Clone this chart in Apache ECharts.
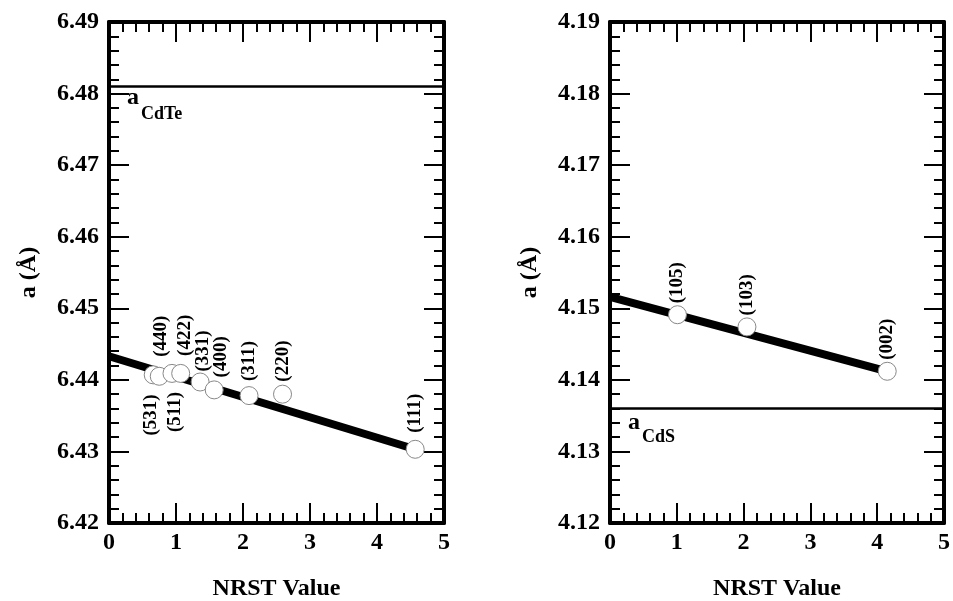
<!DOCTYPE html>
<html><head><meta charset="utf-8">
<script src="https://cdn.jsdelivr.net/npm/echarts@6/dist/echarts.min.js"></script>
<style>html,body{margin:0;padding:0;background:#fff}#c{width:953px;height:601px}</style>
</head><body><div id="c"></div>
<script>
// ---- data ----
const xTickMin = 0, xTickMax = 5, xTickStep = 1;
const cdteYMin = 6.42, cdteYMax = 6.49, cdteYStep = 0.01;
const cdsYMin = 4.12, cdsYMax = 4.19, cdsYStep = 0.01;

const cdteHkl  = ['(531)','(440)','(511)','(422)','(331)','(400)','(311)','(220)','(111)'];
const cdteNrst = [0.66, 0.75, 0.94, 1.07, 1.36, 1.57, 2.09, 2.59, 4.57];
const cdteA    = [6.4407, 6.4405, 6.4409, 6.4409, 6.4397, 6.4386, 6.4378, 6.4380, 6.4303];
const cdteFitX = [0, 4.57];
const cdteFitA = [6.4433, 6.4303];
const cdteRef  = 6.481;

const cdsHkl  = ['(105)','(103)','(002)'];
const cdsNrst = [1.01, 2.05, 4.15];
const cdsA    = [4.1491, 4.1474, 4.1412];
const cdsFitX = [0, 4.15];
const cdsFitA = [4.1516, 4.1412];
const cdsRef  = 4.136;

// ---- styling ----
const FONT = 'Liberation Serif';
const labelsBelow = ['(531)','(511)'];
// [horizontal nudge px, gap from marker px]
const labelNudge = {'(531)':[-2,10],'(440)':[2,10],'(511)':[3,9],'(422)':[4,8],'(331)':[3,1],
  '(400)':[7,3],'(311)':[0,5],'(220)':[1,3],'(111)':[0,7],'(105)':[0,2],'(103)':[0,2],'(002)':[0,2]};

const chart = echarts.init(document.getElementById('c'), null, {renderer:'canvas'});

function xAx(grid, main){
  return {
    type:'value', gridIndex:grid, position: main ? 'bottom' : 'top',
    min:xTickMin, max:xTickMax, interval:xTickStep,
    name: main ? 'NRST Value' : '', nameLocation:'middle', nameGap:54,
    nameTextStyle:{fontFamily:FONT,fontWeight:'bold',fontSize:24,color:'#000'},
    axisLine:{show:true,onZero:false,lineStyle:{color:'#000',width:4}},
    axisTick:{show:true,inside:true,length:20,lineStyle:{color:'#000',width:2}},
    minorTick:{show:true,splitNumber:5,length:10,lineStyle:{color:'#000',width:2}},
    axisLabel:{show:main,margin:8,fontFamily:FONT,fontWeight:'bold',fontSize:24,color:'#000'},
    splitLine:{show:false}, minorSplitLine:{show:false}
  };
}
function yAx(grid, main, mn, mx, st){
  return {
    type:'value', gridIndex:grid, position: main ? 'left' : 'right',
    min:mn, max:mx, interval:st,
    name: main ? 'a (Å)' : '', nameLocation:'middle', nameRotate:90, nameGap:68,
    nameTextStyle:{fontFamily:FONT,fontWeight:'bold',fontSize:24,color:'#000'},
    axisLine:{show:true,onZero:false,lineStyle:{color:'#000',width:4}},
    axisTick:{show:true,inside:true,length:20,lineStyle:{color:'#000',width:2}},
    minorTick:{show:true,splitNumber:5,length:10,lineStyle:{color:'#000',width:2}},
    axisLabel:{show:main,margin:10,fontFamily:FONT,fontWeight:'bold',fontSize:24,color:'#000',
      formatter:v=>v.toFixed(2)},
    splitLine:{show:false}, minorSplitLine:{show:false}
  };
}
function pts(xs, ys, names){
  return xs.map((x,i)=>{
    const n = names[i];
    const below = labelsBelow.includes(n);
    const nd = labelNudge[n] || [0,4];
    return {
      value:[x, ys[i]], name:n,
      label:{
        show:true, formatter:n, rotate:90,
        position: below ? 'bottom' : 'top', distance:nd[1],
        align: below ? 'right' : 'left', verticalAlign:'middle',
        offset:[0, nd[0]]
      }
    };
  });
}
function fit(xs, ys){ return xs.map((x,i)=>[x, ys[i]]); }
function refLine(v){ return [[xTickMin, v],[xTickMax, v]]; }

const scatterStyle = {
  type:'scatter', symbol:'circle', symbolSize:18, z:5,
  itemStyle:{color:'#fff', borderColor:'#888', borderWidth:1, opacity:1},
  label:{fontFamily:FONT,fontWeight:'bold',fontSize:19,color:'#000'},
  emphasis:{disabled:true}
};

chart.setOption({
  animation:false,
  backgroundColor:'#fff',
  grid:[
    {left:109, top:22, width:335, height:501, outerBoundsMode:'none', containLabel:false},
    {left:610, top:22, width:334, height:501, outerBoundsMode:'none', containLabel:false}
  ],
  xAxis:[xAx(0,true), xAx(0,false), xAx(1,true), xAx(1,false)],
  yAxis:[yAx(0,true,cdteYMin,cdteYMax,cdteYStep), yAx(0,false,cdteYMin,cdteYMax,cdteYStep),
         yAx(1,true,cdsYMin,cdsYMax,cdsYStep), yAx(1,false,cdsYMin,cdsYMax,cdsYStep)],
  series:[
    {type:'line', xAxisIndex:0, yAxisIndex:0, data:refLine(cdteRef), symbol:'none',
     lineStyle:{color:'#000',width:2.5}, z:2, silent:true},
    {type:'line', xAxisIndex:0, yAxisIndex:0, data:fit(cdteFitX,cdteFitA), symbol:'none',
     lineStyle:{color:'#000',width:8}, z:3, silent:true},
    Object.assign({}, scatterStyle, {xAxisIndex:0, yAxisIndex:0, data:pts(cdteNrst,cdteA,cdteHkl)}),
    {type:'line', xAxisIndex:2, yAxisIndex:2, data:refLine(cdsRef), symbol:'none',
     lineStyle:{color:'#000',width:2.5}, z:2, silent:true},
    {type:'line', xAxisIndex:2, yAxisIndex:2, data:fit(cdsFitX,cdsFitA), symbol:'none',
     lineStyle:{color:'#000',width:8}, z:3, silent:true},
    Object.assign({}, scatterStyle, {xAxisIndex:2, yAxisIndex:2, data:pts(cdsNrst,cdsA,cdsHkl)})
  ]
});

// subscripted reference labels, anchored to the axes
const p1 = chart.convertToPixel({gridIndex:0}, [xTickMin, cdteRef]);
const p2 = chart.convertToPixel({gridIndex:1}, [xTickMin, cdsRef]);
function refText(p, sub, dy, sdy){
  return [
    {type:'text', x:p[0]+18, y:p[1]+dy, z:10,
     style:{text:'a', font:'bold 24px "Liberation Serif"', fill:'#000', textVerticalAlign:'top'}},
    {type:'text', x:p[0]+32, y:p[1]+dy+sdy, z:10,
     style:{text:sub, font:'bold 18px "Liberation Serif"', fill:'#000', textVerticalAlign:'top'}}
  ];
}
chart.setOption({graphic: refText(p1,'CdTe',-1,20).concat(refText(p2,'CdS',2,18))});
</script></body></html>
